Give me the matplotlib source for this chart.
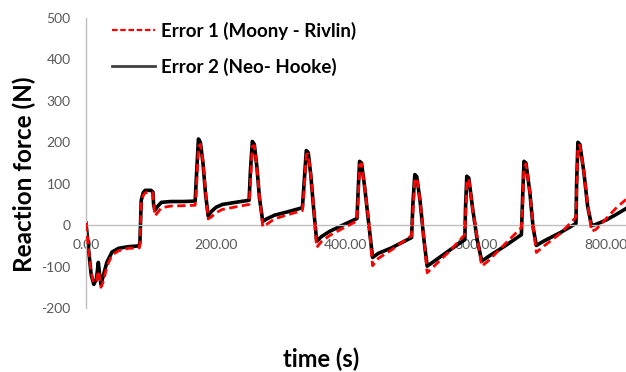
import matplotlib
matplotlib.use("Agg")
import matplotlib.pyplot as plt

# time (s) samples
time = [0, 4, 8, 12, 16, 19, 21, 23, 27, 32, 40, 50, 65, 82, 83, 85, 88, 91, 100, 103,
        104, 106, 110, 116, 130, 150, 168, 170, 173, 176, 180, 184, 188, 193, 200, 210,
        230, 251, 253, 256, 259, 263, 267, 272, 278, 290, 310, 333, 336, 339, 342, 346,
        350, 355, 362, 375, 395, 417, 419, 421, 424, 429, 435, 441, 450, 470, 501, 503,
        506, 509, 514, 520, 525, 535, 560, 583, 584, 586, 589, 595, 602, 609, 620, 645,
        670, 672, 674, 677, 683, 688, 693, 705, 730, 754, 755, 757, 760, 766, 772, 778,
        785, 800, 815, 831]

# Error 2 (Neo-Hooke), solid black
neo_hooke = [5, -60, -120, -143, -130, -90, -120, -143, -120, -90, -65, -56, -52, -50, -40,
             60, 78, 84, 84, 80, 50, 36, 45, 55, 57, 57, 58, 120, 208, 200, 150, 75, 22, 33,
             43, 50, 55, 60, 130, 202, 195, 140, 65, 9, 15, 24, 32, 42, 110, 180, 175, 120,
             45, -39, -28, -15, 0, 16, 90, 154, 150, 90, 5, -78, -68, -55, -30, 50, 122, 117,
             60, -35, -99, -88, -60, -35, 40, 118, 114, 40, -35, -87, -75, -50, -23, 70, 154,
             150, 80, -5, -49, -38, -18, 4, 100, 200, 195, 130, 45, -1, 2, 12, 25, 40]

# Error 1 (Moony-Rivlin), red dashed
mooney_rivlin = [5, -60, -115, -140, -135, -110, -125, -150, -135, -100, -72, -62, -56, -55,
                 -45, 50, 72, 78, 80, 78, 55, 22, 30, 42, 46, 47, 48, 90, 190, 195, 155, 80,
                 15, 20, 30, 38, 44, 50, 100, 190, 192, 140, 70, -4, 2, 15, 25, 35, 90, 170,
                 172, 120, 50, -54, -40, -25, -8, 10, 70, 145, 148, 90, 10, -98, -80, -60,
                 -25, 30, 110, 114, 60, -30, -115, -100, -62, -23, 20, 105, 112, 40, -30,
                 -99, -85, -45, -6, 50, 140, 148, 80, 0, -66, -50, -20, 19, 80, 190, 193,
                 130, 50, -15, -10, 15, 40, 62]

x_ticks = [0, 200, 400, 600, 800]
y_ticks = [-200, -100, 0, 100, 200, 300, 400, 500]

W, H = 626, 372
fig = plt.figure(figsize=(W / 100, H / 100), dpi=100)
ax = fig.add_axes([86 / W, 1 - 308 / H, 1 - 86 / W, 290 / H])

ax.plot(time, mooney_rivlin, color="#ff0000", lw=2.0, dashes=(3, 1.6),
        label="Error 1 (Moony - Rivlin)", zorder=3)
ax.plot(time, neo_hooke, color="#000000", lw=2.6, label="Error 2 (Neo- Hooke)",
        zorder=2)

ax.set_xlim(0, 831)
ax.set_ylim(-200, 500)

# Excel-like axes: vertical axis on the left, horizontal axis through zero
for side in ["top", "right"]:
    ax.spines[side].set_visible(False)
ax.spines["left"].set_color("#bfbfbf")
ax.spines["bottom"].set_color("#bfbfbf")
ax.spines["bottom"].set_position(("data", 0))
ax.spines["left"].set_linewidth(1.0)
ax.spines["bottom"].set_linewidth(1.0)

tick_font = dict(family="Lato", size=10)
ax.set_xticks(x_ticks)
ax.set_xticklabels([f"{v:.2f}" for v in x_ticks], **tick_font)
ax.set_yticks(y_ticks)
ax.set_yticklabels([str(v) for v in y_ticks], **tick_font)
ax.tick_params(axis="both", length=0, colors="#595959")
ax.tick_params(axis="x", pad=10)
ax.tick_params(axis="y", pad=11)

fig.text(24 / W, 1 - 174 / H, "Reaction force (N)", rotation=90, ha="center",
         va="center", family="Lato", weight="bold", size=17.5)
fig.text(321 / W, 1 - 359 / H, "time (s)", ha="center", va="center",
         family="Lato", weight="bold", size=17)

leg = ax.legend(loc="upper left", bbox_to_anchor=(9 / 540, 1.045), frameon=False,
                prop=dict(family="Lato", weight="bold", size=13.5),
                handlelength=2.3, handletextpad=0.3, labelspacing=0.95)
leg.get_lines()[0].set_linewidth(1.6)
leg.get_lines()[0].set_dashes((2.5, 1.2))
leg.get_lines()[1].set_color("#404040")
leg.get_lines()[1].set_linewidth(2.0)

fig.savefig("out.png", dpi=100)
